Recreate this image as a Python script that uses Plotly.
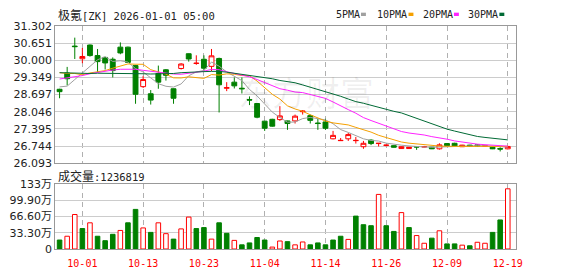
import plotly.graph_objects as go

dates = ["09-26", "09-29", "09-30", "10-01", "10-02", "10-03", "10-06", "10-07", "10-08", "10-09", "10-10",
         "10-13", "10-14", "10-15", "10-16", "10-17", "10-20", "10-21", "10-22", "10-23",
         "10-24", "10-27", "10-28", "10-29", "10-30", "10-31", "11-03", "11-04",
         "11-05", "11-06", "11-07", "11-10", "11-11", "11-12", "11-13", "11-14",
         "11-17", "11-18", "11-19", "11-20", "11-21", "11-24", "11-25", "11-26",
         "11-27", "12-01", "12-02", "12-03", "12-04", "12-05", "12-08", "12-09",
         "12-10", "12-11", "12-12", "12-15", "12-16", "12-17", "12-18", "12-19"]

open_ = [28.90, 29.52, 30.54, 30.06, 30.58, 30.18, 30.11, 30.04, 30.50, 30.50,
         29.80, 29.00, 28.73, 29.50, 29.64, 28.92, 29.69, 30.25, 29.88, 30.04,
         29.77, 30.07, 28.94, 29.17, 28.94, 28.51, 28.36, 27.69, 27.76, 27.75,
         27.70, 27.70, 28.05, 27.90, 27.62, 27.66, 27.02, 26.95, 27.02, 26.95,
         26.72, 26.97, 26.84, 26.77, 26.76, 26.65, 26.65, 26.72, 26.71, 26.70,
         26.64, 26.84, 26.85, 26.72, 26.78, 26.79, 26.74, 26.70, 26.65, 26.64]
high = [28.92, 29.75, 30.86, 30.47, 30.60, 30.43, 30.13, 30.11, 30.68, 30.52,
        29.83, 29.41, 28.87, 29.80, 29.67, 28.93, 29.89, 30.26, 30.19, 30.19,
        30.43, 30.10, 29.17, 29.35, 29.35, 28.63, 28.37, 27.70, 27.78, 28.26,
        27.71, 27.94, 28.11, 27.94, 27.78, 27.78, 27.32, 27.05, 27.24, 27.09,
        26.94, 27.00, 26.86, 26.79, 26.77, 26.73, 26.71, 26.72, 26.75, 26.71,
        26.85, 26.85, 26.87, 26.79, 26.79, 26.80, 26.77, 26.71, 26.70, 26.75]
low = [28.56, 29.05, 30.05, 29.89, 30.14, 29.53, 29.65, 29.35, 30.23, 29.90,
       28.35, 28.95, 28.32, 28.92, 29.23, 28.35, 29.65, 29.95, 29.83, 29.59,
       29.59, 28.02, 28.83, 28.93, 28.74, 28.30, 27.80, 27.32, 27.48, 27.70,
       27.36, 27.60, 27.94, 27.60, 27.36, 27.36, 27.00, 26.95, 26.94, 26.84,
       26.64, 26.78, 26.73, 26.73, 26.69, 26.64, 26.64, 26.60, 26.70, 26.63,
       26.61, 26.75, 26.74, 26.71, 26.73, 26.74, 26.73, 26.63, 26.54, 26.62]
close = [28.81, 29.30, 30.52, 30.145, 30.18, 29.95, 29.90, 29.61, 30.28, 29.92,
         28.71, 29.27, 28.49, 29.17, 29.43, 28.56, 29.86, 30.05, 29.89, 29.70,
         30.17, 29.07, 28.96, 29.03, 28.92, 28.49, 27.84, 27.42, 27.50, 27.89,
         27.60, 27.88, 28.07, 27.72, 27.60, 27.42, 27.15, 26.96, 27.18, 26.96,
         26.85, 26.84, 26.85, 26.78, 26.70, 26.72, 26.70, 26.71, 26.72, 26.64,
         26.79, 26.76, 26.75, 26.78, 26.74, 26.75, 26.76, 26.64, 26.63, 26.73]

# volume in 万 (10,000 shares); last value is 1236819 shares
volume_wan = [18.4, 26.2, 70.9, 42.0, 53.8, 26.2, 17.1, 30.2, 38.1, 53.8,
              81.4, 43.3, 34.1, 53.8, 31.5, 20.3, 41.3, 65.6, 42.0, 44.0,
              20.3, 53.8, 32.2, 17.7, 8.5, 12.5, 23.6, 18.4, 3.9, 16.4,
              15.1, 8.5, 14.4, 8.5, 12.5, 8.5, 18.4, 26.2, 19.7, 67.6,
              49.9, 47.9, 112.2, 47.9, 36.1, 74.8, 44.0, 27.6, 11.8, 22.3,
              37.4, 10.5, 10.5, 7.9, 6.6, 13.8, 11.8, 34.1, 59.7, 123.6819]

# moving-average values before each window is complete
ma5_head = [28.99, 29.02, 29.27, 29.52]
ma10_head = [29.53, 29.50, 29.50, 29.45, 29.52, 29.56, 29.61, 29.70, 29.79]
ma20_head = [29.29, 29.33, 29.38, 29.42, 29.49, 29.54, 29.59, 29.63, 29.66, 29.67,
             29.66, 29.62, 29.58, 29.54, 29.50, 29.48, 29.47, 29.50, 29.54]
ma30_head = [29.53, 29.52, 29.51, 29.50, 29.50, 29.51, 29.51, 29.50, 29.50, 29.50,
             29.49, 29.49, 29.48, 29.48, 29.49, 29.50, 29.53, 29.55, 29.56, 29.57,
             29.58, 29.58, 29.55, 29.51, 29.47, 29.42, 29.38, 29.34, 29.30]

price_ticks = [26.093, 26.744, 27.395, 28.046, 28.697, 29.349, 30.000, 30.651, 31.302]
price_labels = ["26.093", "26.744", "27.395", "28.046", "28.697", "29.349", "30.000", "30.651", "31.302"]
vol_ticks = [0, 333000, 666000, 999000, 1332000]
vol_labels = ["0", "33.30万", "66.60万", "99.90万", "133万"]
date_ticks = ["10-01", "10-13", "10-23", "11-04", "11-14", "11-26", "12-09", "12-19"]

RED = "#ff0000"
GREEN = "#008000"
MA_COLORS = {"5PMA": "#a0a0a0", "10PMA": "#f5a000", "20PMA": "#ff22ff", "30PMA": "#006a35"}


def moving_average(head, n):
    out = list(head)
    for i in range(n - 1, len(close)):
        out.append(sum(close[i - n + 1:i + 1]) / n)
    return out


ma = {"5PMA": moving_average(ma5_head, 5), "10PMA": moving_average(ma10_head, 10),
      "20PMA": moving_average(ma20_head, 20), "30PMA": moving_average(ma30_head, 30)}

volume = [v * 10000 for v in volume_wan]
vol_up = [False] + [close[i] >= close[i - 1] for i in range(1, len(close))]
x_idx = list(range(len(dates)))
tick_idx = [dates.index(d) for d in date_ticks]

W, H = 578, 276
def px(x):
    return x / W
def py(y):
    return 1 - y / H

fig = go.Figure()
fig.add_trace(go.Candlestick(
    x=x_idx, open=open_, high=high, low=low, close=close,
    increasing=dict(line=dict(color=RED, width=1), fillcolor="#ffffff"),
    decreasing=dict(line=dict(color=GREEN, width=1), fillcolor=GREEN),
    whiskerwidth=0, hoverinfo="skip", xaxis="x", yaxis="y"))
for name in ["5PMA", "10PMA", "20PMA", "30PMA"]:
    fig.add_trace(go.Scatter(x=x_idx, y=ma[name], mode="lines",
                             line=dict(color=MA_COLORS[name], width=1),
                             hoverinfo="skip", xaxis="x", yaxis="y"))
fig.add_trace(go.Bar(
    x=x_idx, y=volume, width=0.6,
    marker=dict(color=["#ffffff" if u else GREEN for u in vol_up],
                line=dict(color=[RED if u else GREEN for u in vol_up], width=1)),
    hoverinfo="skip", xaxis="x2", yaxis="y2"))

xr = [-0.56, 60.04]
axis_common = dict(showline=True, mirror=True, linecolor="#999999", linewidth=1,
                   zeroline=False, ticks="")
grid_x = dict(showgrid=True, gridcolor="#b0b0b0", griddash="5px,4px", gridwidth=1)
fig.update_layout(
    width=W, height=H, autosize=False,
    margin=dict(l=0, r=0, t=0, b=0),
    paper_bgcolor="#ffffff", plot_bgcolor="#ffffff",
    showlegend=False, boxgap=0.2, boxgroupgap=0.2, bargap=0.3,
    xaxis=dict(domain=[px(56), px(522)], type="linear", range=xr,
               tickmode="array", tickvals=tick_idx, ticktext=date_ticks, showticklabels=False,
               rangeslider=dict(visible=False), anchor="y", **grid_x, **axis_common),
    yaxis=dict(domain=[py(165), py(21)], range=[26.093, 31.302],
               tickmode="array", tickvals=price_ticks, ticktext=price_labels,
               showgrid=True, gridcolor="#cccccc", gridwidth=1,
               tickfont=dict(family="DejaVu Sans", size=11, color="#222222"),
               anchor="x", **axis_common),
    xaxis2=dict(domain=[px(56), px(522)], type="linear", range=xr, matches="x",
                tickmode="array", tickvals=tick_idx, ticktext=date_ticks,
                tickfont=dict(family="DejaVu Sans Mono", size=10, color=RED),
                ticklabelstandoff=5,
                anchor="y2", **grid_x, **axis_common),
    yaxis2=dict(domain=[py(255), py(187)], range=[0, 1332000],
                tickmode="array", tickvals=vol_ticks, ticktext=vol_labels,
                showgrid=True, gridcolor="#cccccc", gridwidth=1,
                tickfont=dict(family="DejaVu Sans, Noto Sans CJK SC", size=11, color="#222222"),
                anchor="x2", **axis_common),
)

shapes = []
ann = []
ann.append(dict(x=px(57), y=py(9), xref="paper", yref="paper", xanchor="left", yanchor="middle",
                showarrow=False,
                text='<span style="font-family:Noto Sans CJK SC;font-size:12px">极氪</span>[ZK] 2026-01-01 05:00',
                font=dict(family="DejaVu Sans Mono", size=10.5, color="#222222")))
ann.append(dict(x=px(57), y=py(178), xref="paper", yref="paper", xanchor="left", yanchor="middle",
                showarrow=False,
                text='<span style="font-family:Noto Sans CJK SC;font-size:12px">成交量</span>:' + str(round(volume[-1])),
                font=dict(family="DejaVu Sans Mono", size=10.5, color="#222222")))
ann.append(dict(x=px(310), y=py(90), xref="paper", yref="paper", xanchor="center", yanchor="middle",
                showarrow=False, text="东方财富",
                font=dict(family="Noto Sans CJK SC", size=34, color="rgba(0,0,0,0.06)")))
legend_pos = {"5PMA": 338, "10PMA": 380, "20PMA": 426, "30PMA": 472}
for name, x0 in legend_pos.items():
    ann.append(dict(x=px(x0), y=py(9), xref="paper", yref="paper", xanchor="left", yanchor="middle",
                    showarrow=False, text=name,
                    font=dict(family="DejaVu Sans Mono", size=10, color="#222222")))
    sx = x0 + 6.1 * len(name) + 3
    shapes.append(dict(type="rect", xref="paper", yref="paper",
                       x0=px(sx), x1=px(sx + 5), y0=py(10.5), y1=py(7),
                       fillcolor=MA_COLORS[name], line=dict(width=0)))
fig.update_layout(annotations=ann, shapes=shapes)

fig.write_html("out.html")
